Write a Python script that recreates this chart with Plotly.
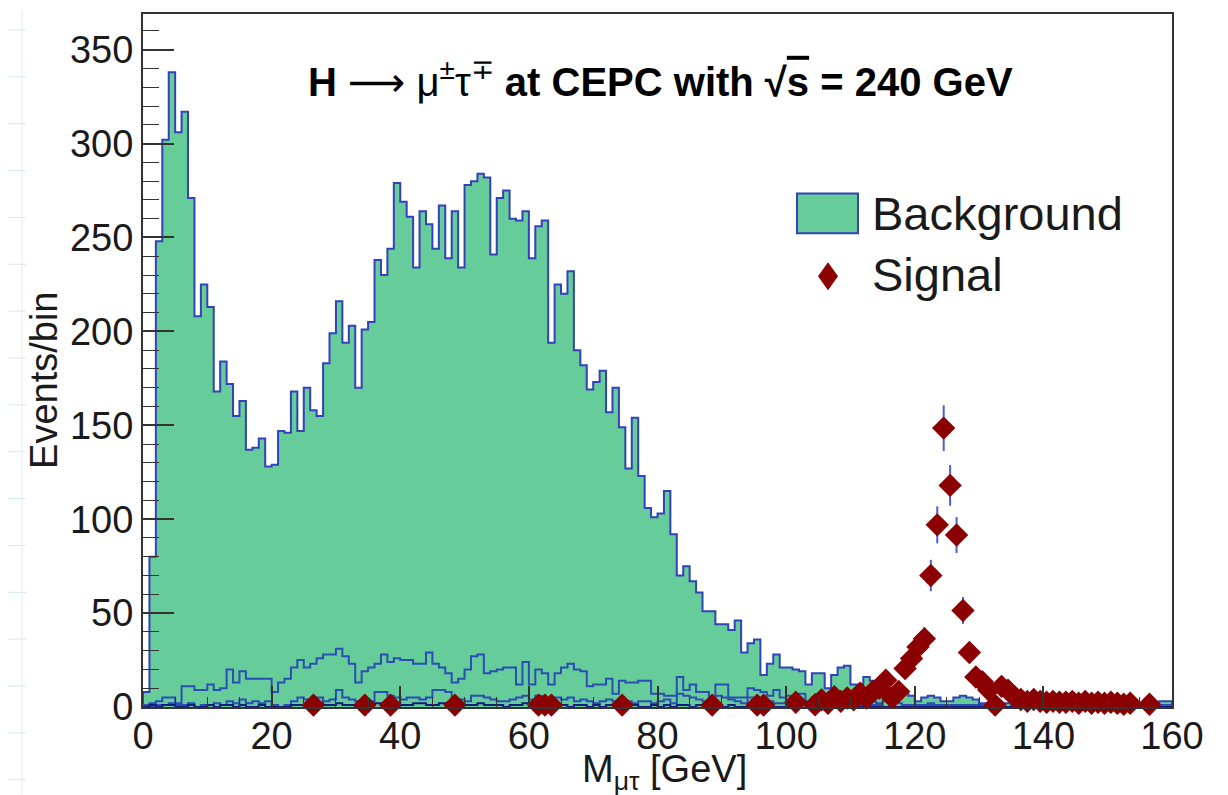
import numpy as np
import plotly.graph_objects as go

# ---------------- data (1 GeV bins from 0 to 160) ----------------
x_lo, x_hi = 0, 160

background = [
    8, 80, 248, 302, 338, 306, 317, 271, 208, 225,
    213, 168, 184, 172, 155, 163, 137, 138, 143, 128,
    129, 147, 146, 168, 147, 170, 158, 155, 183, 199,
    216, 194, 203, 170, 201, 205, 238, 230, 244, 279,
    269, 261, 234, 264, 257, 244, 267, 239, 264, 234,
    278, 280, 284, 282, 241, 271, 275, 260, 259, 264,
    239, 256, 259, 194, 225, 220, 232, 190, 182, 169,
    173, 179, 157, 170, 149, 127, 154, 123, 106, 101,
    103, 115, 92, 70, 75, 67, 61, 51, 51, 44,
    44, 41, 46, 29, 34, 36, 17, 23, 28, 21,
    21, 20, 19, 12, 18, 18, 10, 17, 21, 22,
    12, 12, 16, 14, 14, 12, 10, 9, 7, 6,
    3, 5, 6, 5, 3, 3, 5, 6, 5, 4,
    2, 2, 3, 2, 2, 2, 1, 2, 2, 1,
    2, 2, 1, 2, 2, 1, 2, 1, 2, 2,
    1, 2, 1, 2, 1, 2, 2, 2, 3, 3,
]

component_a = [
    1, 2, 3, 5, 5, 2, 11, 11, 9, 9,
    12, 9, 10, 20, 13, 19, 15, 15, 15, 15,
    8, 13, 15, 21, 25, 21, 23, 26, 28, 28,
    31, 27, 23, 13, 19, 21, 23, 28, 24, 26,
    25, 25, 23, 23, 29, 23, 21, 18, 13, 15,
    20, 27, 28, 18, 19, 20, 21, 21, 12, 24,
    12, 20, 18, 12, 18, 21, 23, 20, 19, 11,
    12, 12, 15, 7, 14, 13, 13, 14, 14, 7,
    7, 6, 6, 16, 9, 12, 8, 8, 5, 12,
    12, 5, 5, 5, 10, 9, 8, 6, 9, 5,
    6, 4, 7, 3, 5, 4, 3, 5, 4, 3,
    3, 2, 4, 3, 2, 3, 2, 2, 1, 1,
    1, 1, 2, 1, 1, 1, 1, 1, 1, 1,
    1, 0, 1, 1, 0, 1, 0, 1, 0, 1,
    0, 1, 0, 0, 1, 0, 0, 1, 0, 0,
    1, 0, 0, 1, 0, 0, 1, 0, 1, 1,
]

component_b = [
    0, 0, 1, 1, 2, 1, 1, 2, 0, 1,
    1, 2, 1, 3, 2, 4, 2, 3, 2, 3,
    1, 0, 1, 3, 5, 4, 3, 5, 3, 4,
    9, 5, 4, 3, 2, 3, 8, 8, 6, 5,
    4, 5, 5, 4, 5, 9, 9, 8, 4, 4,
    3, 6, 6, 5, 4, 3, 3, 4, 5, 6,
    4, 6, 3, 4, 5, 4, 5, 3, 4, 3,
    2, 3, 4, 3, 4, 3, 2, 3, 3, 2,
    3, 4, 2, 7, 6, 5, 4, 3, 2, 6,
    5, 4, 3, 2, 5, 4, 3, 3, 2, 2,
    2, 1, 2, 1, 1, 1, 2, 1, 1, 1,
    1, 1, 0, 1, 1, 0, 1, 0, 0, 1,
    0, 0, 1, 0, 0, 1, 0, 0, 0, 0,
    0, 0, 0, 0, 0, 0, 0, 0, 0, 0,
    0, 0, 0, 0, 0, 0, 0, 0, 0, 0,
    0, 0, 0, 0, 0, 0, 0, 0, 0, 1,
]

component_c = [
    0, 1, 0, 1, 1, 0, 0, 1, 0, 0,
    1, 0, 1, 1, 0, 1, 0, 0, 1, 0,
    0, 0, 0, 1, 1, 0, 1, 2, 1, 1,
    2, 1, 1, 0, 1, 1, 2, 1, 2, 2,
    1, 1, 2, 2, 1, 1, 2, 1, 1, 2,
    1, 1, 2, 1, 1, 1, 0, 1, 1, 2,
    1, 1, 0, 1, 1, 1, 0, 1, 1, 0,
    1, 0, 1, 1, 0, 1, 1, 0, 0, 1,
    0, 1, 0, 1, 1, 0, 1, 0, 0, 1,
    0, 1, 0, 0, 1, 0, 0, 1, 0, 0,
    0, 0, 1, 0, 0, 0, 1, 0, 0, 0,
    0, 0, 0, 0, 0, 0, 0, 0, 0, 0,
    0, 0, 0, 0, 0, 0, 0, 0, 0, 0,
    0, 0, 0, 0, 0, 0, 0, 0, 0, 0,
    0, 0, 0, 0, 0, 0, 0, 0, 0, 0,
    0, 0, 0, 0, 0, 0, 0, 0, 0, 0,
]

signal = [
    0, 0, 0, 0, 0, 0, 0, 0, 0, 0,
    0, 0, 0, 0, 0, 0, 0, 0, 0, 0,
    0, 0, 0, 0, 0, 0, 1, 0, 0, 0,
    0, 0, 0, 0, 1, 0, 0, 0, 1, 0,
    0, 0, 0, 0, 0, 0, 0, 0, 1, 0,
    0, 0, 0, 0, 0, 0, 0, 0, 0, 0,
    0, 1, 1, 1, 0, 0, 0, 0, 0, 0,
    0, 0, 0, 0, 1, 0, 0, 0, 0, 0,
    0, 0, 0, 0, 0, 0, 0, 0, 1, 0,
    0, 0, 0, 0, 0, 1, 1, 0, 0, 0,
    0, 2.5, 0, 0, 1.2, 3.8, 2, 5.5, 3, 4.8,
    3.8, 7.4, 4.8, 8.3, 10, 14.3, 5, 8.3, 20.5, 25.8,
    32, 36.4, 70, 97, 148.5, 118, 91.6, 51.4, 29, 16,
    13.5, 9, 1, 11, 9, 5.5, 4, 3, 4, 3,
    2.5, 3, 2.5, 2.5, 3, 2, 3, 2, 2.5, 2,
    2.5, 2, 1.5, 2, 0, 0, 1.5, 0, 0, 0,
]

x_ticks = [0, 20, 40, 60, 80, 100, 120, 140, 160]
y_ticks = [0, 50, 100, 150, 200, 250, 300, 350]
y_max = 369

# ---------------- helpers ----------------
n_bins = len(background)
edges = np.linspace(x_lo, x_hi, n_bins + 1)
centers = 0.5 * (edges[:-1] + edges[1:])


def step_xy(values):
    xs = [edges[0]] + list(edges[:-1]) + [edges[-1], edges[-1]]
    ys = [0] + list(values) + [values[-1], 0]
    return xs, ys


FONT = "Liberation Sans, Arial, Helvetica, sans-serif"
GREEN = "#66cc99"
BLUE = "#3342b8"
COMP = "#2a4fb4"
NAVY = "#141c7c"
RED = "#8b0000"
FRAME = "#333333"

fig = go.Figure()

bx, by = step_xy(background)
fig.add_trace(go.Scatter(x=bx, y=by, mode="lines", line=dict(shape="hv", color=BLUE, width=2),
                         fill="tozeroy", fillcolor=GREEN, name="Background", showlegend=False,
                         hoverinfo="skip"))

for comp, col in ((component_a, COMP), (component_b, COMP), (component_c, NAVY)):
    cx, cy = step_xy(comp)
    fig.add_trace(go.Scatter(x=cx, y=cy, mode="lines", line=dict(shape="hv", color=col, width=2),
                             showlegend=False, hoverinfo="skip"))

sig = np.array(signal, dtype=float)
mask = sig > 0
fig.add_trace(go.Scatter(
    x=centers[mask], y=sig[mask], mode="markers",
    marker=dict(symbol="diamond", size=18, color=RED, line=dict(width=0)),
    error_y=dict(type="data", array=np.sqrt(sig[mask]), color="#4a5fd8", thickness=2, width=0),
    cliponaxis=False, name="Signal", showlegend=False))

# ---------------- layout ----------------
# the page adds an 8 px body margin; the figure is sized so the plot frame lands
# at x 143..1172 and y 12..707 in the 1228x795 window
OFF = 8
W, H = 1228 - OFF, 795 - OFF
L, R, T, B = 143 - OFF, 56, 12 - OFF, 88
pw, ph = W - L - R, H - T - B


def px_x(p):
    return (p - OFF - L) / pw


def px_y(p):
    return (H - B - (p - OFF)) / ph


fig.update_layout(
    width=W, height=H,
    margin=dict(l=L, r=R, t=T, b=B),
    paper_bgcolor="white", plot_bgcolor="white",
    font=dict(family=FONT, color="#1a1a1a"),
    showlegend=False,
)

fig.update_xaxes(range=[x_lo, x_hi], tickvals=x_ticks, ticks="inside", ticklen=21, tickwidth=1.5,
                 tickcolor=FRAME, showline=True, linecolor=FRAME, linewidth=2, mirror=True,
                 showgrid=False, zeroline=False, tickfont=dict(size=38, family=FONT),
                 ticklabelstandoff=-6,
                 minor=dict(dtick=5, tick0=0, ticks="inside", ticklen=10, tickcolor=FRAME, tickwidth=1))
fig.update_yaxes(range=[0, y_max], tickvals=y_ticks, ticks="inside", ticklen=31, tickwidth=1.5,
                 tickcolor=FRAME, showline=True, linecolor=FRAME, linewidth=2, mirror=True,
                 showgrid=False, zeroline=False, tickfont=dict(size=38, family=FONT),
                 minor=dict(dtick=10, tick0=0, ticks="inside", ticklen=16, tickcolor=FRAME, tickwidth=1))

title_text = ("<b>H</b> <span style='font-family:DejaVu Sans'>⟶</span> μ<sup>±</sup>τ<sup>∓</sup> "
              "<b>at CEPC with √<span style='text-decoration:overline'>s</span> = 240 GeV</b>")

annotations = [
    dict(text=title_text, x=px_x(660), y=px_y(78), xref="paper", yref="paper", showarrow=False,
         xanchor="center", yanchor="middle", font=dict(size=40, family=FONT, color="black")),
    dict(text="M<sub>μτ</sub> [GeV]", x=px_x(664), y=px_y(772), xref="paper", yref="paper",
         showarrow=False, xanchor="center", yanchor="middle", font=dict(size=38, family=FONT)),
    dict(text="Events/bin", x=px_x(44), y=px_y(380), xref="paper", yref="paper", textangle=-90,
         showarrow=False, xanchor="center", yanchor="middle", font=dict(size=38, family=FONT)),
    dict(text="Background", x=px_x(870), y=px_y(212), xref="paper", yref="paper", showarrow=False,
         xanchor="left", yanchor="middle", font=dict(size=47, family=FONT)),
    dict(text="Signal", x=px_x(870), y=px_y(273), xref="paper", yref="paper", showarrow=False,
         xanchor="left", yanchor="middle", font=dict(size=47, family=FONT)),
]

shapes = [
    dict(type="rect", xref="paper", yref="paper", x0=px_x(797), x1=px_x(858), y0=px_y(232), y1=px_y(192),
         fillcolor=GREEN, line=dict(color=BLUE, width=2)),
    dict(type="path", xref="paper", yref="paper", xsizemode="pixel", ysizemode="pixel",
         xanchor=px_x(828), yanchor=px_y(275), path="M 0 14 L 10 0 L 0 -14 L -10 0 Z",
         fillcolor=RED, line=dict(width=0)),
]

# faint notebook-paper lines visible at the far left edge of the picture
for yy in range(28, 795, 47):
    shapes.append(dict(type="line", xref="paper", yref="paper", x0=px_x(OFF), x1=px_x(26),
                       y0=px_y(yy), y1=px_y(yy), line=dict(color="#d6e6f5", width=1), layer="below"))
shapes.append(dict(type="line", xref="paper", yref="paper", x0=px_x(22), x1=px_x(22),
                   y0=px_y(OFF), y1=px_y(795), line=dict(color="#e2ecf7", width=1), layer="below"))

fig.update_layout(annotations=annotations, shapes=shapes)

fig.write_html("out.html")
